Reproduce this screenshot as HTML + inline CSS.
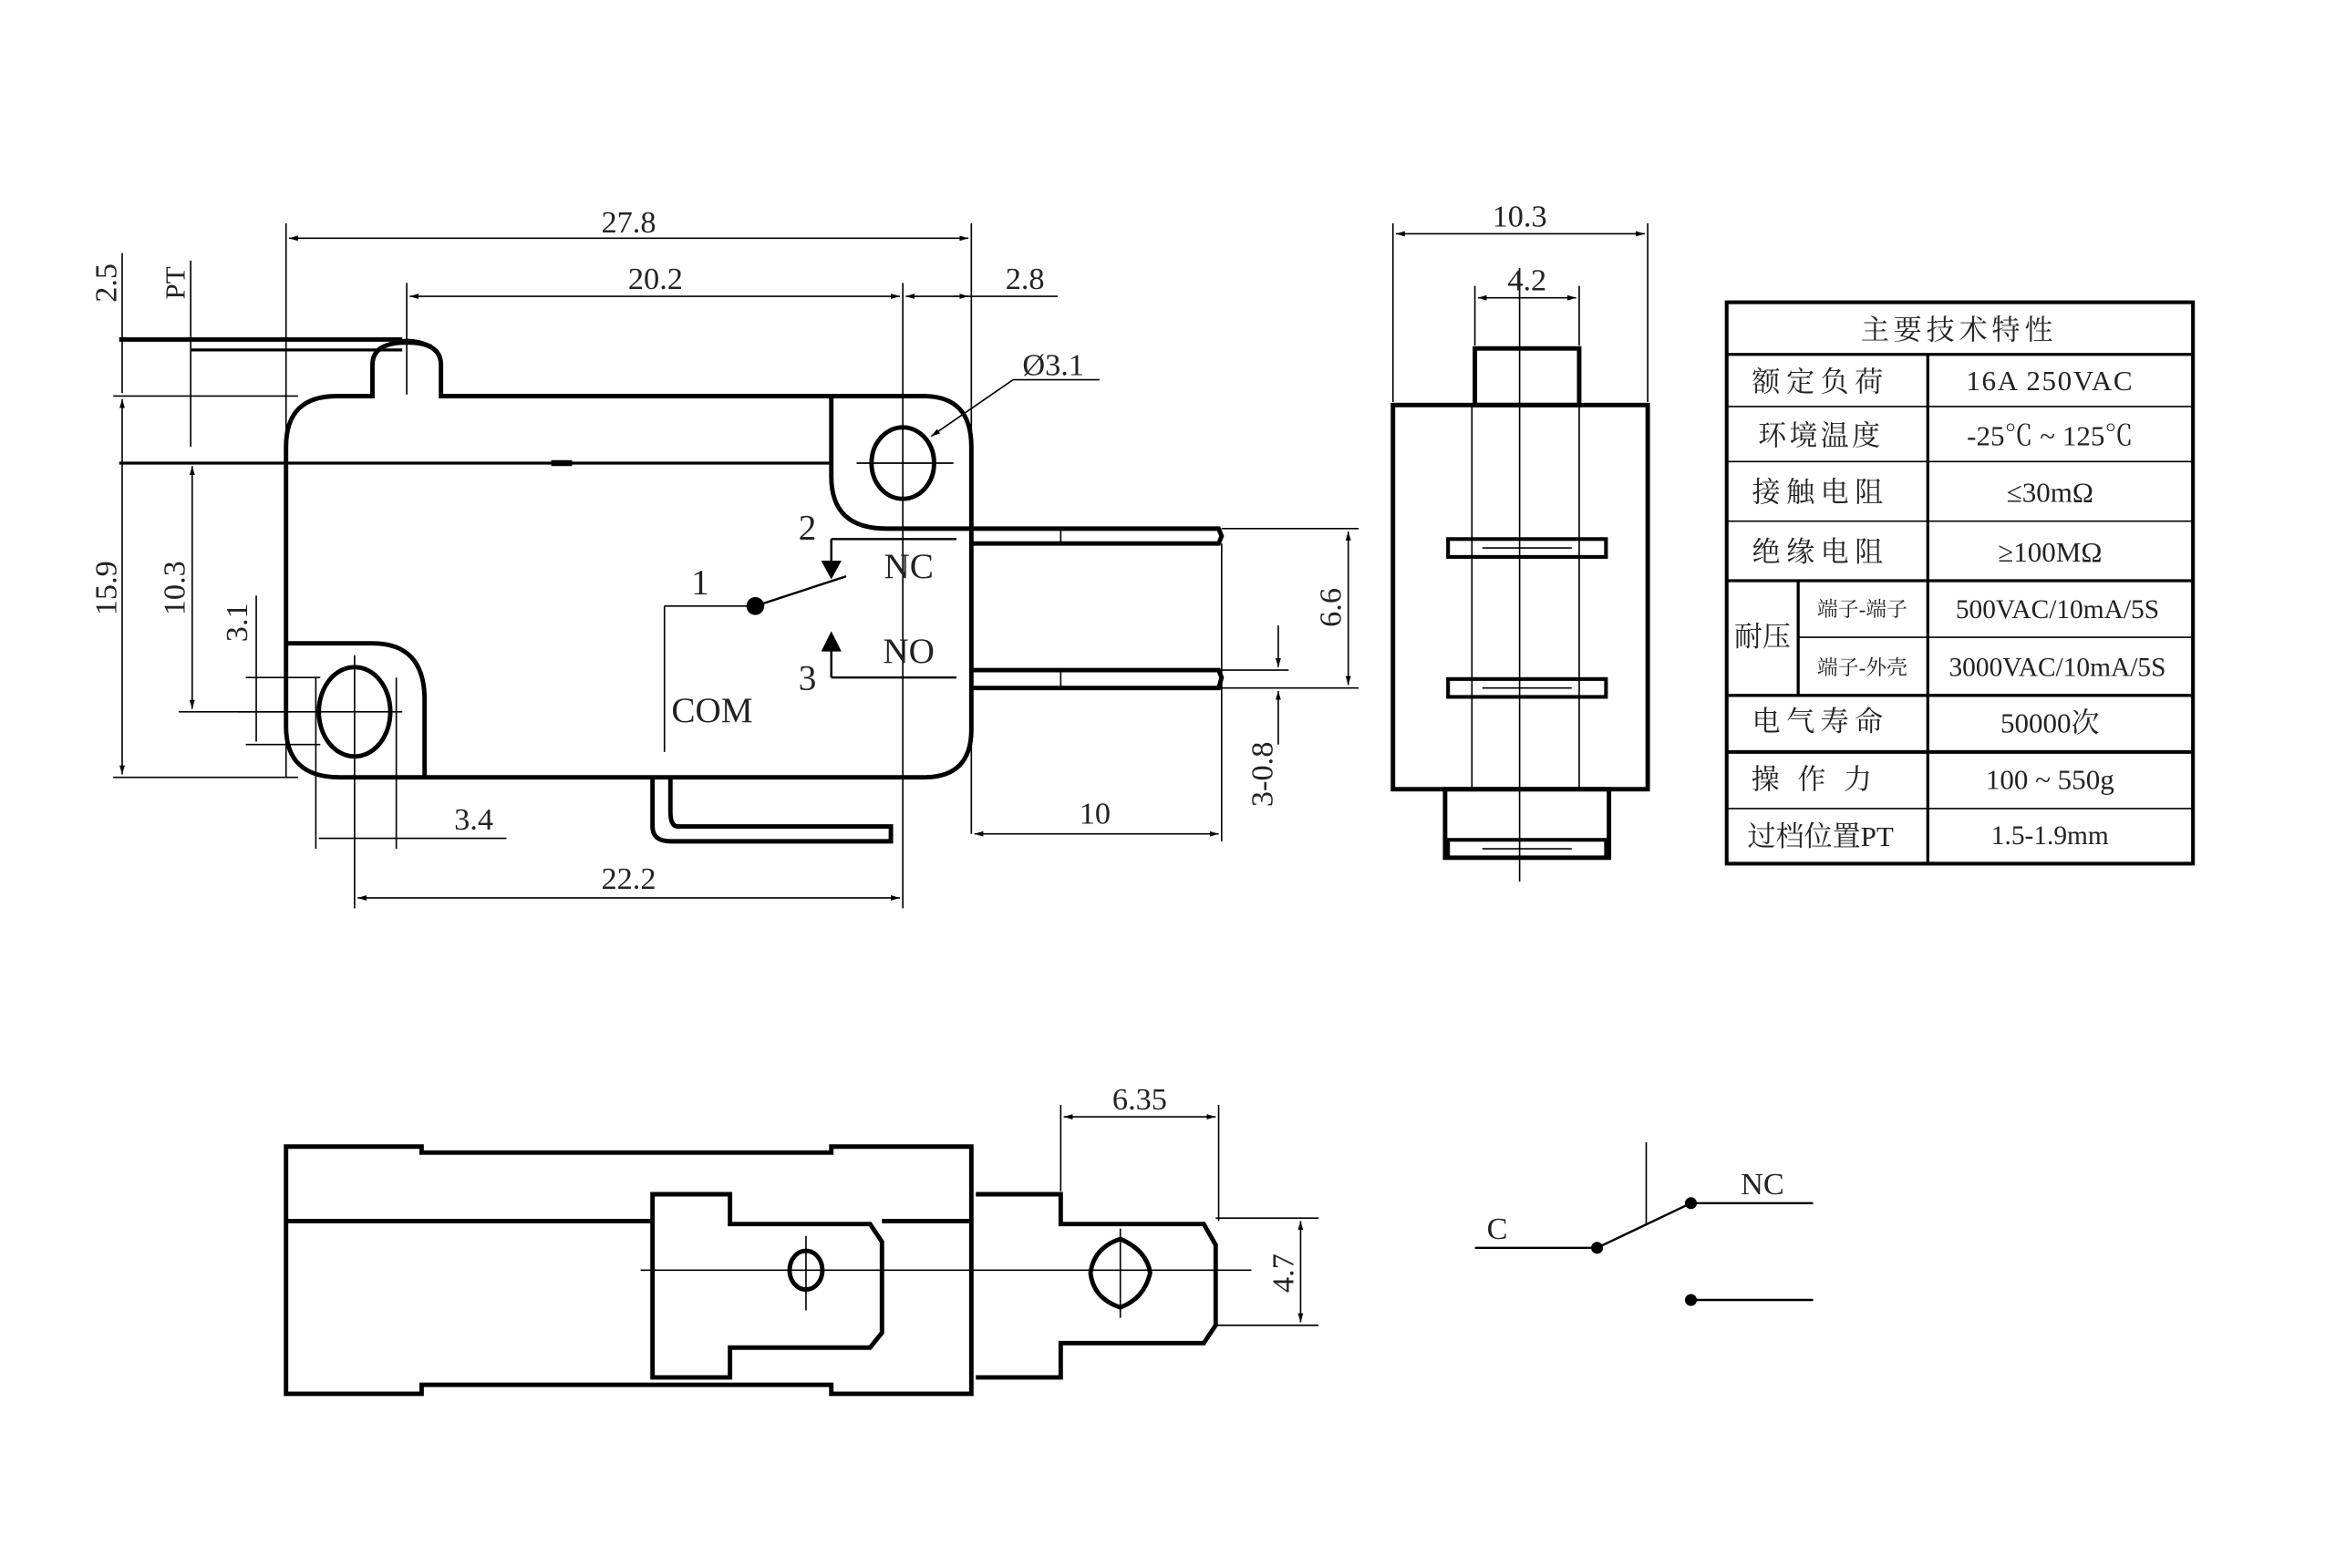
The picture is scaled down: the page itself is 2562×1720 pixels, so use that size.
<!DOCTYPE html>
<html><head><meta charset="utf-8"><style>
html,body{margin:0;padding:0;background:#fff;}
svg{display:block}
text{font-family:"Liberation Serif","Noto Serif CJK SC",serif;fill:#222;}
.cjk{font-family:"Liberation Serif","Noto Serif CJK SC","Noto Sans CJK SC",serif;}
</style></head><body>
<svg width="2562" height="1720" viewBox="0 0 1568 1053" preserveAspectRatio="none" xmlns="http://www.w3.org/2000/svg">
<defs>
<marker id="a" viewBox="0 0 10 10" refX="10" refY="5" markerWidth="6" markerHeight="6" orient="auto-start-reverse"><path d="M0,2 L10,5 L0,8 z" fill="#000"/></marker>
</defs>
<g fill="none" stroke="#000">
<path d="M192,300 Q192,266 226,266 L250,266 L250,245 Q250,230 273,230 Q296,230 296,245 L296,266 L620,266 Q652,266 652,300 L652,490 Q652,522 620,522 L228,522 Q192,522 192,488 Z" stroke-width="3"/>
<path d="M558,266 L558,320 Q558,355 595,355 L652,355" stroke-width="3"/>
<path d="M192,432 L250,432 Q285,432 285,470 L285,522" stroke-width="3"/>
<ellipse cx="606" cy="311" rx="21" ry="24" stroke-width="3"/>
<ellipse cx="238" cy="478" rx="24" ry="30" stroke-width="3"/>
<path d="M652,355 L818,355 L820,360 L818,365 L652,365" stroke-width="3"/>
<line x1="712" y1="355" x2="712" y2="365" stroke-width="1"/>
<path d="M652,450 L818,450 L820,455 L818,462 L652,462" stroke-width="3"/>
<line x1="712" y1="450" x2="712" y2="462" stroke-width="1"/>
<path d="M438,522 L438,555 Q438,565 450,565 L598,565 L598,555 L455,555 Q450,555 450,545 L450,522" stroke-width="3"/>
<line x1="80" y1="311" x2="558" y2="311" stroke-width="2"/>
<line x1="370" y1="311" x2="384" y2="311" stroke-width="4"/>
<line x1="575" y1="311" x2="640" y2="311" stroke-width="1"/>
<line x1="606" y1="190" x2="606" y2="610" stroke-width="1"/>
<line x1="273" y1="190" x2="273" y2="265" stroke-width="1"/>
<line x1="238" y1="440" x2="238" y2="610" stroke-width="1"/>
<line x1="160" y1="478" x2="270" y2="478" stroke-width="1"/>
<line x1="80" y1="228" x2="270" y2="228" stroke-width="3"/>
<line x1="128" y1="235" x2="270" y2="235" stroke-width="2"/>
<path d="M258,232 Q273,224 290,232" stroke-width="1"/>
<line x1="192" y1="150" x2="192" y2="522" stroke-width="1"/>
<line x1="652" y1="150" x2="652" y2="560" stroke-width="1"/>
<line x1="194" y1="160" x2="650" y2="160" stroke-width="1" marker-start="url(#a)" marker-end="url(#a)"/>
<line x1="275" y1="199" x2="604" y2="199" stroke-width="1" marker-start="url(#a)" marker-end="url(#a)"/>
<line x1="608" y1="199" x2="710" y2="199" stroke-width="1" marker-start="url(#a)"/>
<line x1="640" y1="199" x2="650" y2="199" stroke-width="1" marker-end="url(#a)"/>
<line x1="76" y1="266" x2="200" y2="266" stroke-width="1"/>
<line x1="76" y1="522" x2="200" y2="522" stroke-width="1"/>
<line x1="82" y1="268" x2="82" y2="520" stroke-width="1" marker-start="url(#a)" marker-end="url(#a)"/>
<line x1="82" y1="170" x2="82" y2="264" stroke-width="1"/>
<line x1="128" y1="175" x2="128" y2="300" stroke-width="1"/>
<line x1="120" y1="478" x2="195" y2="478" stroke-width="1"/>
<line x1="129" y1="313" x2="129" y2="476" stroke-width="1" marker-start="url(#a)" marker-end="url(#a)"/>
<line x1="165" y1="455" x2="215" y2="455" stroke-width="1"/>
<line x1="165" y1="500" x2="215" y2="500" stroke-width="1"/>
<line x1="172" y1="400" x2="172" y2="498" stroke-width="1"/>
<line x1="212" y1="455" x2="212" y2="570" stroke-width="1"/>
<line x1="266" y1="455" x2="266" y2="570" stroke-width="1"/>
<line x1="214" y1="563" x2="340" y2="563" stroke-width="1"/>
<line x1="240" y1="603" x2="604" y2="603" stroke-width="1" marker-start="url(#a)" marker-end="url(#a)"/>
<line x1="820" y1="365" x2="820" y2="565" stroke-width="1"/>
<line x1="654" y1="560" x2="818" y2="560" stroke-width="1" marker-start="url(#a)" marker-end="url(#a)"/>
<line x1="820" y1="355" x2="912" y2="355" stroke-width="1"/>
<line x1="820" y1="462" x2="912" y2="462" stroke-width="1"/>
<line x1="905" y1="357" x2="905" y2="460" stroke-width="1" marker-start="url(#a)" marker-end="url(#a)"/>
<line x1="820" y1="450" x2="865" y2="450" stroke-width="1"/>
<line x1="858" y1="420" x2="858" y2="448" stroke-width="1" marker-end="url(#a)"/>
<line x1="858" y1="500" x2="858" y2="464" stroke-width="1" marker-end="url(#a)"/>
<line x1="625" y1="293" x2="680" y2="255" stroke-width="1" marker-start="url(#a)"/>
<line x1="680" y1="255" x2="738" y2="255" stroke-width="1"/>
<line x1="558" y1="362" x2="642" y2="362" stroke-width="1.5"/>
<line x1="558" y1="362" x2="558" y2="382" stroke-width="1.5"/>
<path d="M552,377 L564,377 L558,388 Z" fill="#000"/>
<line x1="507" y1="407" x2="568" y2="387" stroke-width="1.5"/>
<line x1="446" y1="407" x2="507" y2="407" stroke-width="1"/>
<line x1="446" y1="407" x2="446" y2="505" stroke-width="1"/>
<path d="M552,437 L564,437 L558,425 Z" fill="#000"/>
<line x1="558" y1="437" x2="558" y2="455" stroke-width="1.5"/>
<line x1="558" y1="455" x2="642" y2="455" stroke-width="1.5"/>
</g>
<circle cx="507" cy="407" r="6" fill="#000"/>
<text x="422" y="156" font-size="21" text-anchor="middle">27.8</text>
<text x="440" y="194" font-size="21" text-anchor="middle">20.2</text>
<text x="688" y="194" font-size="21" text-anchor="middle">2.8</text>
<text x="707" y="252" font-size="21" text-anchor="middle">Ø3.1</text>
<text transform="translate(78,190) rotate(-90)" font-size="21" text-anchor="middle">2.5</text>
<text transform="translate(124,190) rotate(-90)" font-size="19" text-anchor="middle">PT</text>
<text transform="translate(78,395) rotate(-90)" font-size="21" text-anchor="middle">15.9</text>
<text transform="translate(124,395) rotate(-90)" font-size="21" text-anchor="middle">10.3</text>
<text transform="translate(166,418) rotate(-90)" font-size="21" text-anchor="middle">3.1</text>
<text x="318" y="557" font-size="21" text-anchor="middle">3.4</text>
<text x="422" y="597" font-size="21" text-anchor="middle">22.2</text>
<text x="735" y="553" font-size="21" text-anchor="middle">10</text>
<text transform="translate(900,408) rotate(-90)" font-size="21" text-anchor="middle">6.6</text>
<text transform="translate(854,520) rotate(-90)" font-size="21" text-anchor="middle">3-0.8</text>
<text x="542" y="362" font-size="24" text-anchor="middle">2</text>
<text x="470" y="399" font-size="24" text-anchor="middle">1</text>
<text x="542" y="463" font-size="24" text-anchor="middle">3</text>
<text x="610" y="388" font-size="24" text-anchor="middle">NC</text>
<text x="610" y="445" font-size="24" text-anchor="middle">NO</text>
<text x="478" y="485" font-size="24" text-anchor="middle">COM</text>
<g fill="none" stroke="#000">
<rect x="935" y="272" width="171" height="258" stroke-width="3"/>
<rect x="990" y="234" width="70" height="38" stroke-width="3"/>
<rect x="970" y="530" width="110" height="46" stroke-width="3"/>
<line x1="988" y1="272" x2="988" y2="530" stroke-width="1"/>
<line x1="1060" y1="272" x2="1060" y2="530" stroke-width="1"/>
<line x1="1020" y1="180" x2="1020" y2="592" stroke-width="1"/>
<rect x="972" y="362" width="106" height="12" stroke-width="2.5"/>
<rect x="972" y="456" width="106" height="12" stroke-width="2.5"/>
<rect x="972" y="564" width="106" height="12" stroke-width="2.5"/>
<line x1="995" y1="368" x2="1055" y2="368" stroke-width="1"/>
<line x1="995" y1="462" x2="1055" y2="462" stroke-width="1"/>
<line x1="995" y1="570" x2="1055" y2="570" stroke-width="1"/>
<line x1="935" y1="150" x2="935" y2="270" stroke-width="1"/>
<line x1="1106" y1="150" x2="1106" y2="270" stroke-width="1"/>
<line x1="937" y1="157" x2="1104" y2="157" stroke-width="1" marker-start="url(#a)" marker-end="url(#a)"/>
<line x1="990" y1="192" x2="990" y2="232" stroke-width="1"/>
<line x1="1060" y1="192" x2="1060" y2="232" stroke-width="1"/>
<line x1="992" y1="200" x2="1058" y2="200" stroke-width="1" marker-start="url(#a)" marker-end="url(#a)"/>
</g>
<text x="1020" y="152" font-size="21" text-anchor="middle">10.3</text>
<text x="1025" y="195" font-size="21" text-anchor="middle">4.2</text>
<g fill="none" stroke="#000">
<rect x="1159" y="203" width="313" height="377" stroke-width="2.5"/>
<line x1="1159" y1="238" x2="1472" y2="238" stroke-width="2"/>
<line x1="1159" y1="273" x2="1472" y2="273" stroke-width="1"/>
<line x1="1159" y1="310" x2="1472" y2="310" stroke-width="1"/>
<line x1="1159" y1="350" x2="1472" y2="350" stroke-width="1"/>
<line x1="1159" y1="390" x2="1472" y2="390" stroke-width="2"/>
<line x1="1207" y1="428" x2="1472" y2="428" stroke-width="1"/>
<line x1="1159" y1="467" x2="1472" y2="467" stroke-width="2"/>
<line x1="1159" y1="505" x2="1472" y2="505" stroke-width="2.5"/>
<line x1="1159" y1="543" x2="1472" y2="543" stroke-width="1"/>
<line x1="1294" y1="238" x2="1294" y2="580" stroke-width="2"/>
<line x1="1207" y1="390" x2="1207" y2="467" stroke-width="2"/>
</g>
<g class="cjk" font-size="19" text-anchor="middle">
<text x="1315" y="228" class="cjk" letter-spacing="3">主要技术特性</text>
<text x="1222" y="263" class="cjk" letter-spacing="4">额定负荷</text>
<text x="1222" y="299" class="cjk" letter-spacing="2">环境温度</text>
<text x="1222" y="337" class="cjk" letter-spacing="4">接触电阻</text>
<text x="1222" y="377" class="cjk" letter-spacing="4">绝缘电阻</text>
<text x="1183" y="434" class="cjk">耐压</text>
<text x="1250" y="414" class="cjk" font-size="14">端子-端子</text>
<text x="1250" y="453" class="cjk" font-size="14">端子-外壳</text>
<text x="1222" y="491" class="cjk" letter-spacing="4">电气寿命</text>
<text x="1222" y="530" class="cjk" letter-spacing="12">操作力</text>
<text x="1222" y="568" class="cjk">过档位置PT</text>
<text x="1376" y="262" letter-spacing="1">16A 250VAC</text>
<text x="1376" y="299">-25℃ ~ 125℃</text>
<text x="1376" y="337">≤30mΩ</text>
<text x="1376" y="377">≥100MΩ</text>
<text x="1381" y="415" font-size="18">500VAC/10mA/5S</text>
<text x="1381" y="454" font-size="18">3000VAC/10mA/5S</text>
<text x="1376" y="492" class="cjk">50000次</text>
<text x="1376" y="530">100 ~ 550g</text>
<text x="1376" y="567" font-size="18">1.5-1.9mm</text>
</g>
<g fill="none" stroke="#000">
<path d="M192,770 L283,770 L283,774 L558,774 L558,770 L652,770 L652,936 L558,936 L558,930 L283,930 L283,936 L192,936 Z" stroke-width="3"/>
<line x1="192" y1="820" x2="438" y2="820" stroke-width="3"/>
<line x1="592" y1="820" x2="652" y2="820" stroke-width="3"/>
<path d="M438,802 L490,802 L490,822 L584,822 L592,834 L592,895 L584,905 L490,905 L490,925 L438,925 Z" stroke-width="3"/>
<path d="M655,802 L712,802 L712,822 L808,822 L816,836 L816,890 L808,902 L712,902 L712,925 L655,925" stroke-width="3"/>
<ellipse cx="541" cy="853" rx="11" ry="13" stroke-width="3"/>
<path d="M752,832 Q770,840 772,855 Q768,872 752,878 Q734,872 732,855 Q734,838 752,832 Z" stroke-width="3"/>
<line x1="430" y1="853" x2="840" y2="853" stroke-width="1"/>
<line x1="541" y1="830" x2="541" y2="880" stroke-width="1"/>
<line x1="752" y1="825" x2="752" y2="885" stroke-width="1"/>
<line x1="712" y1="742" x2="712" y2="800" stroke-width="1"/>
<line x1="818" y1="742" x2="818" y2="820" stroke-width="1"/>
<line x1="714" y1="750" x2="816" y2="750" stroke-width="1" marker-start="url(#a)" marker-end="url(#a)"/>
<line x1="816" y1="818" x2="885" y2="818" stroke-width="1"/>
<line x1="816" y1="890" x2="885" y2="890" stroke-width="1"/>
<line x1="873" y1="820" x2="873" y2="888" stroke-width="1" marker-start="url(#a)" marker-end="url(#a)"/>
</g>
<text x="765" y="745" font-size="21" text-anchor="middle">6.35</text>
<text transform="translate(868,855) rotate(-90)" font-size="21" text-anchor="middle">4.7</text>
<g fill="none" stroke="#000" stroke-width="1.5">
<line x1="990" y1="838" x2="1072" y2="838"/>
<line x1="1072" y1="838" x2="1135" y2="808"/>
<line x1="1135" y1="808" x2="1217" y2="808"/>
<line x1="1135" y1="873" x2="1217" y2="873"/>
<line x1="1105" y1="767" x2="1105" y2="822" stroke-width="1"/>
</g>
<circle cx="1072" cy="838" r="4" fill="#000"/>
<circle cx="1135" cy="808" r="4" fill="#000"/>
<circle cx="1135" cy="873" r="4" fill="#000"/>
<text x="1005" y="832" font-size="21" text-anchor="middle">C</text>
<text x="1183" y="802" font-size="21" text-anchor="middle">NC</text>
</svg>
</body></html>
